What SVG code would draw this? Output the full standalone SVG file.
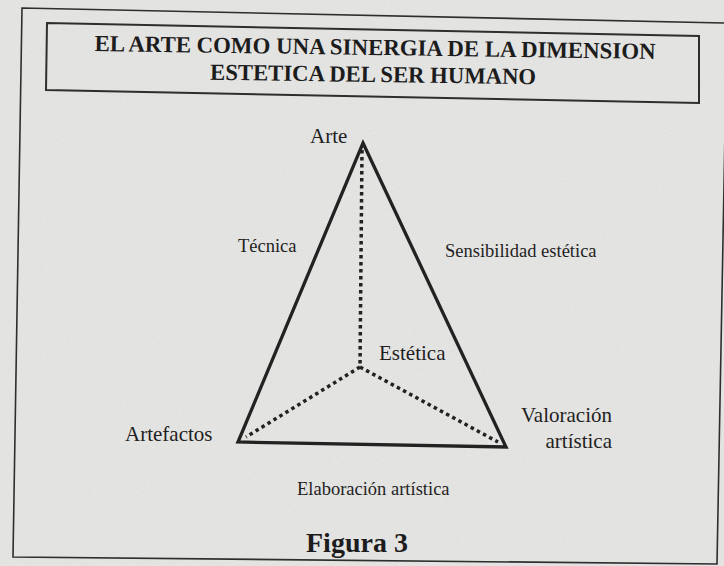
<svg xmlns="http://www.w3.org/2000/svg" width="724" height="566" viewBox="0 0 724 566">
  <style>
    .lbl { font-family: "Liberation Serif", "Times New Roman", serif; fill: #1f1f1f; }
    .big { font-size: 21px; }
    .small { font-size: 18.5px; }
    .title { font-family: "Liberation Serif", "Times New Roman", serif; font-weight: bold; font-size: 23px; fill: #1c1c1c; }
    .frame { fill: none; stroke: #2e2e2e; }
    .solid { fill: none; stroke: #222; stroke-width: 3.3; stroke-linejoin: miter; stroke-linecap: square; }
    .dots { fill: none; stroke: #222; stroke-width: 3.5; stroke-dasharray: 3.5 3.5; }
  </style>
  <defs>
    <filter id="grain" x="0" y="0" width="100%" height="100%">
      <feTurbulence type="fractalNoise" baseFrequency="0.85" numOctaves="2" seed="3" result="n"/>
      <feColorMatrix in="n" type="matrix" values="0 0 0 0 0.35  0 0 0 0 0.35  0 0 0 0 0.35  0 0 0 0.35 0"/>
    </filter>
  </defs>

  <!-- paper -->
  <rect x="0" y="0" width="724" height="566" fill="#e8e8e6"/>
  <rect x="0" y="0" width="724" height="566" filter="url(#grain)" opacity="0.4"/>

  <!-- outer frame -->
  <g id="outer-frame">
    <polygon class="frame" stroke-width="1.6" points="22,8 727,23 717,564 13,557"/>
  </g>

  <!-- title -->
  <g id="title">
    <polygon class="frame" stroke-width="2" points="47,23 699,36 699,103 46,90"/>
    <text class="title" x="375" y="55" text-anchor="middle" textLength="561" lengthAdjust="spacingAndGlyphs" transform="rotate(0.8 375 55)">EL ARTE COMO UNA SINERGIA DE LA DIMENSION</text>
    <text class="title" x="373" y="82" text-anchor="middle" textLength="326" lengthAdjust="spacingAndGlyphs" transform="rotate(0.8 373 82)">ESTETICA DEL SER HUMANO</text>
  </g>

  <!-- connectors -->
  <g id="connectors">
    <polygon class="solid" points="363,143 506,447 238,442"/>
    <polyline class="dots" points="362,150 360,367"/>
    <polyline class="dots" points="360,367 246,437"/>
    <polyline class="dots" points="360,367 498,442"/>
  </g>

  <!-- nodes -->
  <g id="node-arte">
    <text class="lbl big" x="310" y="143">Arte</text>
  </g>
  <g id="node-estetica">
    <text class="lbl big" x="379" y="360">Estética</text>
  </g>
  <g id="node-artefactos">
    <text class="lbl big" x="125" y="441">Artefactos</text>
  </g>
  <g id="node-valoracion">
    <text class="lbl big" x="612" y="422" text-anchor="end">Valoración</text>
    <text class="lbl big" x="612" y="448" text-anchor="end">artística</text>
  </g>

  <!-- edge labels -->
  <g id="label-tecnica">
    <text class="lbl small" x="238" y="252">Técnica</text>
  </g>
  <g id="label-sensibilidad">
    <text class="lbl small" x="445" y="257">Sensibilidad estética</text>
  </g>
  <g id="label-elaboracion">
    <text class="lbl small" x="297" y="495">Elaboración artística</text>
  </g>

  <!-- caption -->
  <g id="caption">
    <text class="title" x="306" y="552" style="font-size:28px">Figura 3</text>
  </g>
</svg>
